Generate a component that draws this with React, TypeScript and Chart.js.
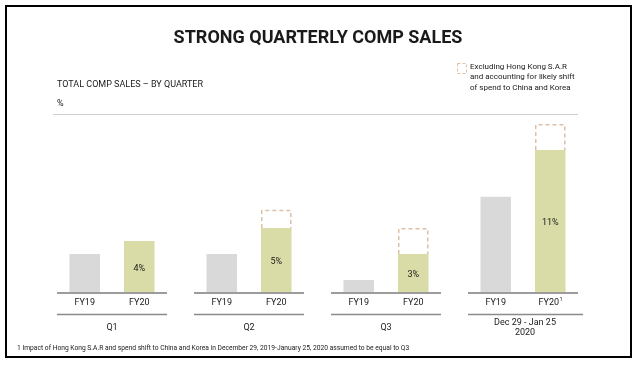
import { useEffect, useRef } from "react";
import { Chart, registerables } from "chart.js";

Chart.register(...registerables);

const quarters = ["Q1", "Q2", "Q3", "Dec 29 - Jan 25\n2020"];
const barLabels = ["FY19", "FY20"];
const fy19 = [3, 3, 1, 7.4];
const fy20 = [4, 5, 3, 11];
const adjusted: (number | null)[] = [null, 6.4, 5, 13];
const valueLabels = ["4%", "5%", "3%", "11%"];
const footnoteMarks = ["", "", "", "1"];

const titleText = "STRONG QUARTERLY COMP SALES";
const subtitleText = "TOTAL COMP SALES \u2013 BY QUARTER";
const unitText = "%";
const legendLines = [
  "Excluding Hong Kong S.A.R",
  "and accounting for likely shift",
  "of spend to China and Korea",
];
const footnoteText =
  "1 Impact of Hong Kong S.A.R and spend shift to China and Korea in December 29, 2019-January 25, 2020 assumed to be equal to Q3";

const FONT = "Roboto, 'DejaVu Sans', sans-serif";
const GRAY = "#d9d9d9";
const GREEN = "#d9dca6";
const DASH = "#dcc0aa";
const TEXT = "#1a1a1a";

const decorPlugin = {
  id: "decor",
  beforeDraw(chart: any) {
    const ctx = chart.ctx;
    ctx.save();
    ctx.fillStyle = "#ffffff";
    ctx.fillRect(0, 0, chart.width, chart.height);
    ctx.restore();
  },
  afterDatasetsDraw(chart: any) {
    const ctx = chart.ctx as CanvasRenderingContext2D;
    const xs = chart.scales.x;
    const ys = chart.scales.y;
    const base = ys.getPixelForValue(0);
    ctx.save();

    // frame
    ctx.strokeStyle = "#000";
    ctx.lineWidth = 2;
    ctx.strokeRect(6, 6, 625, 351);

    // title
    ctx.fillStyle = TEXT;
    ctx.textAlign = "center";
    ctx.textBaseline = "middle";
    ctx.font = `bold 18px ${FONT}`;
    ctx.fillText(titleText, 318, 38);

    // subtitle & unit
    ctx.textAlign = "left";
    ctx.font = `9px ${FONT}`;
    ctx.fillText(subtitleText, 57, 85);
    ctx.fillText(unitText, 57, 104);

    // top rule
    ctx.strokeStyle = "#cfcfcf";
    ctx.lineWidth = 1;
    ctx.beginPath();
    ctx.moveTo(53, 114.5);
    ctx.lineTo(578, 114.5);
    ctx.stroke();

    // legend
    ctx.strokeStyle = DASH;
    ctx.lineWidth = 1;
    ctx.setLineDash([3, 2]);
    ctx.strokeRect(457.5, 63.5, 9, 10);
    ctx.setLineDash([]);
    ctx.font = `8px ${FONT}`;
    ctx.fillStyle = TEXT;
    legendLines.forEach((l, i) => ctx.fillText(l, 470, 67 + i * 10.3));

    // dashed adjusted boxes
    const meta2 = chart.getDatasetMeta(2);
    ctx.strokeStyle = DASH;
    ctx.lineWidth = 1.5;
    ctx.setLineDash([4, 3]);
    meta2.data.forEach((el: any, i: number) => {
      if (adjusted[i] == null) return;
      const l = el.x - el.width / 2 + 0.75;
      const r = el.x + el.width / 2 - 0.75;
      const t = el.y + 0.75;
      const b = el.base;
      ctx.beginPath();
      ctx.moveTo(l, b);
      ctx.lineTo(l, t);
      ctx.lineTo(r, t);
      ctx.lineTo(r, b);
      ctx.stroke();
    });
    ctx.setLineDash([]);

    // value labels inside FY20 bars
    const meta1 = chart.getDatasetMeta(1);
    ctx.fillStyle = TEXT;
    ctx.textAlign = "center";
    ctx.font = `9px ${FONT}`;
    meta1.data.forEach((el: any, i: number) => {
      ctx.fillText(valueLabels[i], el.x, (el.y + el.base) / 2 + 1.5);
    });

    // baselines, bar labels, group rules, group labels
    const meta0 = chart.getDatasetMeta(0);
    quarters.forEach((q, i) => {
      const cx = xs.getPixelForValue(i);
      const half = 55;
      ctx.strokeStyle = "#9c9c9c";
      ctx.lineWidth = 2;
      ctx.beginPath();
      ctx.moveTo(cx - half, base);
      ctx.lineTo(cx + half, base);
      ctx.stroke();

      ctx.strokeStyle = "#8a8a8a";
      ctx.lineWidth = 1.3;
      ctx.beginPath();
      ctx.moveTo(cx - half, base + 21.5);
      ctx.lineTo(cx + half + (i === 3 ? 5 : 0), base + 21.5);
      ctx.stroke();

      ctx.fillStyle = TEXT;
      ctx.font = `9px ${FONT}`;
      ctx.textAlign = "center";
      const els = [meta0.data[i], meta1.data[i]];
      els.forEach((el: any, k: number) => {
        const lbl = barLabels[k];
        const mark = k === 1 ? footnoteMarks[i] : "";
        if (mark) {
          const w = ctx.measureText(lbl).width;
          ctx.fillText(lbl, el.x - 1.5, base + 9.5);
          ctx.font = `5.5px ${FONT}`;
          ctx.textAlign = "left";
          ctx.fillText(mark, el.x - 1.5 + w / 2 + 0.5, base + 7);
          ctx.font = `9px ${FONT}`;
          ctx.textAlign = "center";
        } else {
          ctx.fillText(lbl, el.x, base + 9.5);
        }
      });

      const lines = q.split("\n");
      if (lines.length === 1) {
        ctx.fillText(lines[0], cx, base + 35);
      } else {
        lines.forEach((ln, j) => ctx.fillText(ln, cx + 2, base + 30 + j * 10));
      }
    });

    // footnote
    ctx.textAlign = "left";
    ctx.font = `6.7px ${FONT}`;
    ctx.fillText(footnoteText, 17, 348);

    ctx.restore();
  },
};

export default function App() {
  const ref = useRef<HTMLCanvasElement | null>(null);
  useEffect(() => {
    if (!ref.current) return;
    const chart = new Chart(ref.current, {
      type: "bar",
      data: {
        labels: quarters,
        datasets: [
          {
            label: "FY19",
            data: fy19,
            backgroundColor: GRAY,
            stack: "fy19",
            categoryPercentage: 0.796,
            barPercentage: 0.56,
          },
          {
            label: "FY20",
            data: fy20,
            backgroundColor: GREEN,
            stack: "fy20",
            categoryPercentage: 0.796,
            barPercentage: 0.56,
          },
          {
            label: "Excluding Hong Kong S.A.R",
            data: adjusted.map((v, i) => (v == null ? null : v - fy20[i])),
            backgroundColor: "rgba(0,0,0,0)",
            stack: "fy20",
            categoryPercentage: 0.796,
            barPercentage: 0.56,
          },
        ],
      },
      options: {
        responsive: false,
        animation: false,
        devicePixelRatio: 1,
        layout: { padding: { left: 43.5, right: 48.5, top: 111, bottom: 72 } },
        plugins: {
          legend: { display: false },
          title: { display: false },
          tooltip: { enabled: false },
        },
        scales: {
          x: { display: false },
          y: { display: false, stacked: true, min: 0, max: 14 },
        },
      },
      plugins: [decorPlugin],
    });
    return () => chart.destroy();
  }, []);
  return (
    <div style={{ position: "absolute", left: 0, top: 0, width: 640, height: 365 }}>
      <canvas ref={ref} width={640} height={365} />
    </div>
  );
}
